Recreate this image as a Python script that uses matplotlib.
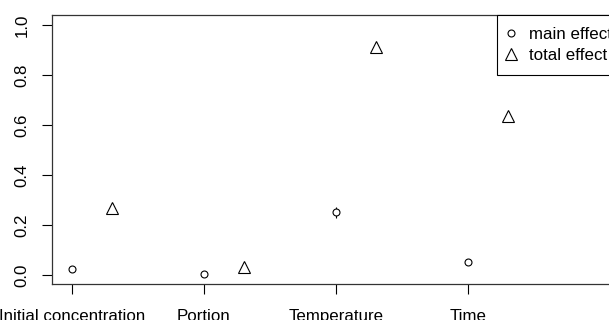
import matplotlib
matplotlib.use("Agg")
import matplotlib.pyplot as plt
from matplotlib.lines import Line2D
import numpy as np

categories = ["Initial concentration", "Portion", "Temperature", "Time"]
main_effect = [0.023, 0.005, 0.251, 0.052]
main_err = [0.004, 0.003, 0.022, 0.004]
total_effect = [0.268, 0.033, 0.912, 0.636]
total_err = [0.014, 0.004, 0.008, 0.018]
yticks = [0.0, 0.2, 0.4, 0.6, 0.8, 1.0]

plt.rcParams['font.family'] = ['Liberation Sans', 'DejaVu Sans']
fig = plt.figure(figsize=(6.09, 3.2), dpi=100)
ax = fig.add_axes([52/609, 36/320, (620-52)/609, 269/320])

x = np.arange(1, len(categories) + 1)
xt = x + 40/132

ax.errorbar(x, main_effect, yerr=main_err, fmt='o', mfc='white', mec='black',
            ecolor='black', elinewidth=0.8, mew=0.8, ms=5, capsize=0)
ax.errorbar(xt, total_effect, yerr=total_err, fmt='^', mfc='white', mec='black',
            ecolor='black', elinewidth=0.8, mew=0.8, ms=8, capsize=0)

ax.set_xlim(1 - 20/132, 1 + (620-72)/132)
ax.set_ylim(-0.036, 1.04)
ax.set_xticks(x)
ax.set_xticklabels(categories, fontsize=12.2)
ax.set_yticks(yticks)
ax.set_yticklabels([f"{v:.1f}" for v in yticks], rotation=90, va='center', fontsize=12.2)
ax.tick_params(axis='both', length=7, width=0.8, color='black')
ax.tick_params(axis='x', pad=11)
ax.tick_params(axis='y', pad=9)
for s in ax.spines.values():
    s.set_linewidth(0.9)
    s.set_color('#333333')

handles = [
    Line2D([], [], linestyle='none', marker='o', mfc='white', mec='black', mew=0.8, ms=5),
    Line2D([], [], linestyle='none', marker='^', mfc='white', mec='black', mew=0.8, ms=8),
]
leg = ax.legend(handles, ['main effect', 'total effect'], loc='upper left',
                bbox_to_anchor=(497/609, 1 - 15/320),
                bbox_transform=fig.transFigure, borderaxespad=0, fancybox=False,
                edgecolor='black', framealpha=1, fontsize=12.2, handlelength=0.2,
                handletextpad=1.0, borderpad=0.7, labelspacing=0.35)
leg.get_frame().set_linewidth(0.8)

fig.savefig("out.png", dpi=100)
